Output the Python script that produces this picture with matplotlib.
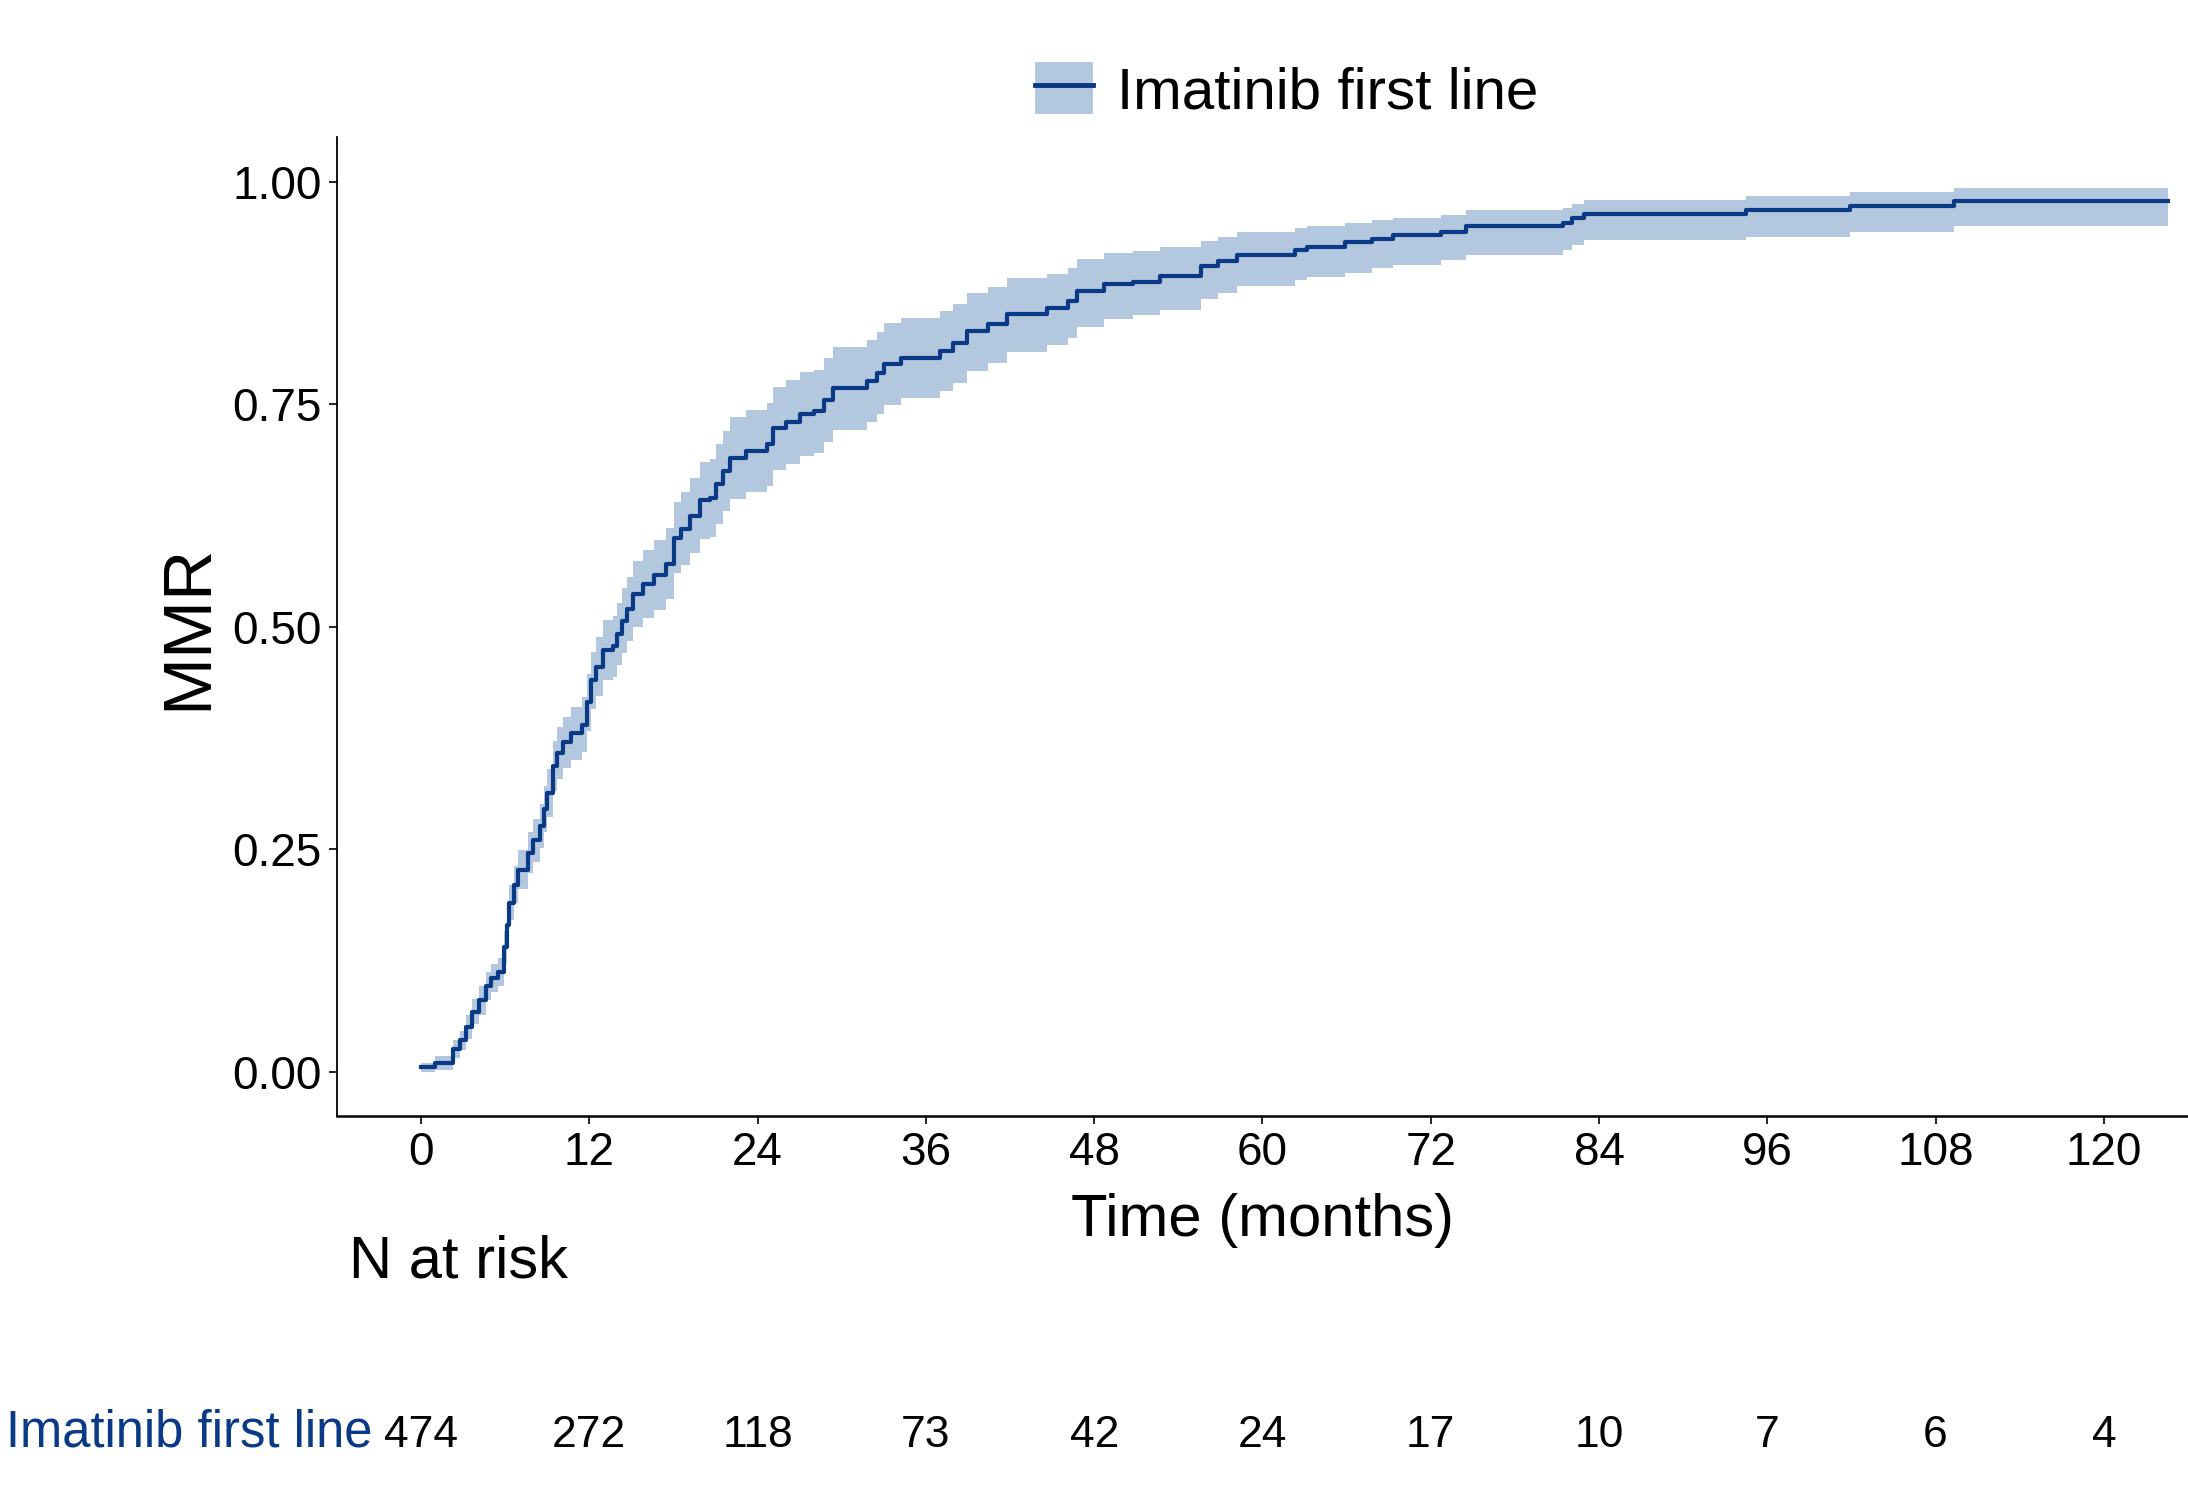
import matplotlib
matplotlib.use("Agg")
import matplotlib.pyplot as plt
from matplotlib.patches import Patch
from matplotlib.lines import Line2D
from matplotlib.transforms import blended_transform_factory

plt.rcParams["font.family"] = ["Liberation Sans", "DejaVu Sans"]

# Kaplan-Meier style cumulative incidence of MMR
time = [0, 1.0, 2.3, 2.8, 3.2, 3.6, 4.1, 4.6, 5.0, 5.5, 5.9, 6.1, 6.3, 6.6, 6.9,
        7.6, 8.0, 8.5, 8.8, 9.0, 9.4, 9.7, 10.1, 10.7, 11.5, 11.8, 12.1, 12.5,
        13.0, 13.7, 14.0, 14.3, 14.7, 15.1, 15.8, 16.6, 17.5, 18.0, 18.5, 19.2,
        19.9, 20.6, 21.0, 21.5, 22.0, 23.2, 24.7, 25.1, 26.0, 27.0, 28.0, 28.7,
        29.4, 31.8, 32.5, 33.0, 34.2, 37.0, 37.9, 38.9, 40.4, 41.8, 44.6, 46.1,
        46.8, 48.7, 50.8, 52.7, 55.6, 56.8, 58.2, 62.3, 63.2, 65.9, 67.8, 69.3,
        72.7, 74.5, 81.4, 82.1, 82.9, 94.5, 101.9, 109.3, 124.6]
mmr = [0.005, 0.010, 0.025, 0.035, 0.050, 0.067, 0.080, 0.096, 0.105, 0.112,
       0.140, 0.165, 0.190, 0.210, 0.227, 0.246, 0.260, 0.276, 0.295, 0.313,
       0.343, 0.358, 0.370, 0.380, 0.390, 0.415, 0.440, 0.455, 0.474, 0.478,
       0.492, 0.507, 0.520, 0.537, 0.548, 0.558, 0.571, 0.600, 0.610, 0.625,
       0.642, 0.645, 0.660, 0.675, 0.690, 0.698, 0.705, 0.723, 0.730, 0.739,
       0.742, 0.755, 0.768, 0.776, 0.785, 0.795, 0.802, 0.810, 0.819, 0.832,
       0.840, 0.851, 0.858, 0.866, 0.877, 0.885, 0.888, 0.894, 0.905, 0.911,
       0.918, 0.924, 0.927, 0.932, 0.936, 0.940, 0.944, 0.950, 0.954, 0.959,
       0.964, 0.968, 0.973, 0.979, 0.979]
lower = [0.000, 0.002, 0.015, 0.024, 0.037, 0.053, 0.064, 0.080, 0.089, 0.096,
         0.122, 0.146, 0.170, 0.189, 0.205, 0.223, 0.236, 0.251, 0.269, 0.286,
         0.315, 0.329, 0.341, 0.350, 0.359, 0.383, 0.408, 0.422, 0.440, 0.444,
         0.457, 0.471, 0.484, 0.500, 0.510, 0.519, 0.531, 0.560, 0.569, 0.583,
         0.599, 0.601, 0.615, 0.630, 0.644, 0.652, 0.658, 0.676, 0.683, 0.692,
         0.695, 0.708, 0.721, 0.730, 0.739, 0.749, 0.757, 0.765, 0.774, 0.788,
         0.797, 0.809, 0.817, 0.825, 0.837, 0.846, 0.850, 0.856, 0.868, 0.875,
         0.883, 0.890, 0.893, 0.898, 0.903, 0.907, 0.912, 0.918, 0.923, 0.929,
         0.935, 0.938, 0.944, 0.950, 0.950]
upper = [0.010, 0.018, 0.035, 0.046, 0.063, 0.081, 0.096, 0.112, 0.121, 0.128,
         0.158, 0.184, 0.210, 0.231, 0.249, 0.269, 0.284, 0.301, 0.321, 0.340,
         0.371, 0.387, 0.399, 0.410, 0.421, 0.447, 0.472, 0.488, 0.508, 0.512,
         0.527, 0.543, 0.556, 0.574, 0.586, 0.597, 0.611, 0.640, 0.651, 0.667,
         0.685, 0.689, 0.705, 0.720, 0.736, 0.744, 0.752, 0.770, 0.777, 0.786,
         0.789, 0.802, 0.815, 0.822, 0.831, 0.841, 0.847, 0.855, 0.863, 0.875,
         0.882, 0.892, 0.897, 0.903, 0.913, 0.920, 0.922, 0.927, 0.934, 0.938,
         0.944, 0.948, 0.950, 0.954, 0.957, 0.960, 0.963, 0.968, 0.971, 0.975,
         0.980, 0.984, 0.989, 0.993, 0.993]

xticks = [0, 12, 24, 36, 48, 60, 72, 84, 96, 108, 120]
n_at_risk = [474, 272, 118, 73, 42, 24, 17, 10, 7, 6, 4]
group = "Imatinib first line"

line_col = "#0a3a86"
band_col = "#b3c7de"

fig = plt.figure(figsize=(21.88, 14.94), dpi=100)
ax = fig.add_axes([0.154, 0.253, 0.846, 0.655])

ax.fill_between(time, lower, upper, step="post", color=band_col, linewidth=0)
ax.step(time, mmr, where="post", color=line_col, linewidth=3.0)

ax.set_xlim(-6, 126)
ax.set_ylim(-0.05, 1.05)
ax.set_xticks(xticks)
ax.set_yticks([0, 0.25, 0.5, 0.75, 1.0])
ax.set_yticklabels(["0.00", "0.25", "0.50", "0.75", "1.00"])
ax.tick_params(labelsize=33, length=6, width=1.2, pad=5)
for side in ["top", "right"]:
    ax.spines[side].set_visible(False)
ax.spines["left"].set_linewidth(1.3)
ax.spines["bottom"].set_linewidth(1.8)

ax.set_xlabel("Time (months)", fontsize=43)
ax.xaxis.set_label_coords(0.5, -0.079)
ax.set_ylabel("MMR", fontsize=50)
ax.yaxis.set_label_coords(-0.063, 0.5)

# legend at the top
handle = (Patch(facecolor=band_col, edgecolor="none"),
          Line2D([], [], color=line_col, linewidth=3.5))
fig.legend([handle], [group], loc="center", bbox_to_anchor=(0.588, 0.939),
           frameon=False, fontsize=42, handlelength=1.0, handleheight=1.0,
           handletextpad=0.4)

# risk table
fig.text(349 / 2188, 0.1452, "N at risk", fontsize=43, va="baseline", ha="left")
tr = blended_transform_factory(ax.transData, fig.transFigure)
fig.text(372 / 2188, 0.0315, group, fontsize=36.5, color=line_col,
         va="baseline", ha="right")
for t, n in zip(xticks, n_at_risk):
    ax.text(t, 0.0315, str(n), transform=tr, fontsize=32, ha="center",
            va="baseline", clip_on=False)

fig.savefig("out.png", dpi=100)
